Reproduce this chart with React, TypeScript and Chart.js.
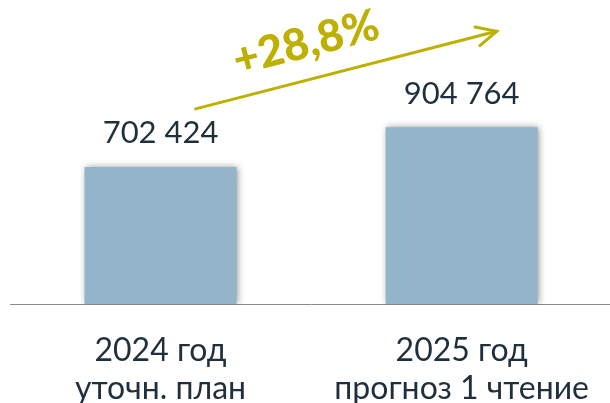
import React, { useEffect, useRef } from "react";
import { Chart, registerables } from "chart.js";

Chart.register(...registerables);

const categories: string[][] = [
  ["2024 год", "уточн. план"],
  ["2025 год", "прогноз 1 чтение"],
];
const values: number[] = [702424, 904764];
const growthLabel = "+28,8%";

const FONT = "Lato, 'Open Sans', sans-serif";
const TEXT = "#1f2f3c";
const OLIVE = "#bdb000";

const fmt = (v: number) => v.toString().replace(/\B(?=(\d{3})+(?!\d))/g, " ");

const shadowPlugin = {
  id: "barShadow",
  beforeDatasetDraw(chart: any) {
    const ctx = chart.ctx;
    ctx.save();
    ctx.shadowColor = "rgba(0,0,0,0.45)";
    ctx.shadowBlur = 7;
    ctx.shadowOffsetX = 1;
    ctx.shadowOffsetY = 0;
  },
  afterDatasetDraw(chart: any) {
    chart.ctx.restore();
  },
};

const labelsPlugin = {
  id: "valueLabels",
  afterDatasetsDraw(chart: any) {
    const ctx = chart.ctx;
    const meta = chart.getDatasetMeta(0);
    ctx.save();
    ctx.font = `31px ${FONT}`;
    ctx.fillStyle = TEXT;
    ctx.textAlign = "center";
    ctx.textBaseline = "bottom";
    meta.data.forEach((bar: any, i: number) => {
      ctx.fillText(fmt(values[i]), bar.x, bar.y - 18);
    });
    // growth arrow
    const b1 = meta.data[0];
    const b2 = meta.data[1];
    const x1 = b1.x + 35, y1 = b1.y - 58;
    const x2 = b2.x + 35, y2 = b2.y - 96;
    ctx.strokeStyle = OLIVE;
    ctx.lineWidth = 3;
    ctx.lineCap = "round";
    ctx.beginPath();
    ctx.moveTo(x1, y1);
    ctx.lineTo(x2, y2);
    ctx.stroke();
    const ang = Math.atan2(y2 - y1, x2 - x1);
    const hl = 22;
    ctx.beginPath();
    ctx.moveTo(x2 + hl * Math.cos(ang + Math.PI - 0.45), y2 + hl * Math.sin(ang + Math.PI - 0.45));
    ctx.lineTo(x2, y2);
    ctx.lineTo(x2 + hl * Math.cos(ang + Math.PI + 0.45), y2 + hl * Math.sin(ang + Math.PI + 0.45));
    ctx.stroke();
    // growth label
    const tx = (x1 + x2) / 2 - 40;
    const ty = (y1 + y2) / 2 - 27;
    ctx.translate(tx, ty);
    ctx.rotate(ang);
    ctx.font = `900 44px ${FONT}`;
    ctx.fillStyle = OLIVE;
    ctx.textBaseline = "middle";
    ctx.fillText(growthLabel, 0, 0);
    ctx.restore();
  },
};

export default function App() {
  const ref = useRef<HTMLCanvasElement | null>(null);
  useEffect(() => {
    document.body.style.margin = "0";
    const chart = new Chart(ref.current as HTMLCanvasElement, {
      type: "bar",
      data: {
        labels: categories,
        datasets: [
          {
            data: values,
            backgroundColor: "#94b5c9",
            borderWidth: 0,
            barPercentage: 0.505,
            categoryPercentage: 1,
          },
        ],
      },
      options: {
        animation: false,
        responsive: false,
        maintainAspectRatio: false,
        layout: { padding: { left: 10, right: 0, top: 0, bottom: -32 } },
        plugins: { legend: { display: false }, tooltip: { enabled: false } },
        scales: {
          x: {
            grid: { display: false, drawTicks: false },
            border: { display: true, color: "#8a8a8a", width: 1 },
            ticks: {
              color: TEXT,
              font: { family: FONT, size: 32 },
              padding: 27,
              maxRotation: 0,
              autoSkip: false,
            },
          },
          y: {
            display: false,
            min: 0,
            max: 1556000,
          },
        },
      },
      plugins: [shadowPlugin, labelsPlugin],
    });
    return () => chart.destroy();
  }, []);
  return (
    <div style={{ width: 610, height: 403, overflow: "hidden" }}>
      <canvas ref={ref} width={616} height={403} style={{ display: "block" }} />
    </div>
  );
}
